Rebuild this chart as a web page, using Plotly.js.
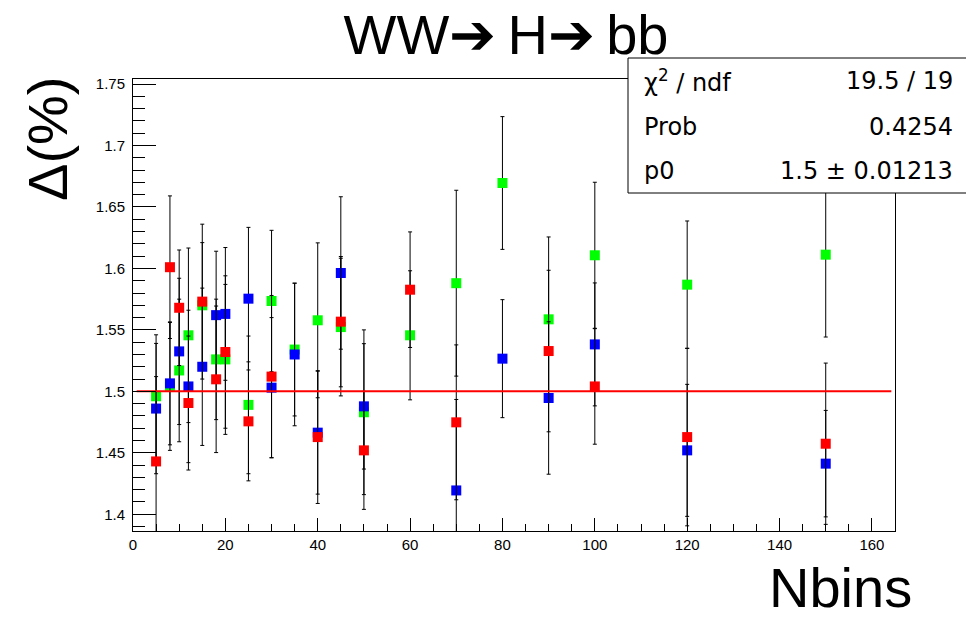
<!DOCTYPE html>
<html>
<head>
<meta charset="utf-8">
<script src="https://cdn.plot.ly/plotly-3.0.1.min.js"></script>
<style>html,body{margin:0;padding:0;background:#fff;}#chart{width:966px;height:617px;}</style>
</head>
<body>
<div id="chart"></div>
<script>
// ---- data ----
var nbins = [5, 8, 10, 12, 15, 18, 20, 25, 30, 35, 40, 45, 50, 60, 70, 80, 90, 100, 120, 150];

var greenVals = [1.496, 1.504, 1.517, 1.5456, 1.570, 1.526, 1.526, 1.489, 1.5735, 1.534, 1.5578, 1.5523, 1.483, 1.5456, 1.588, 1.6695, 1.5586, 1.6107, 1.5868, 1.6112];
var greenErrs = [0.050, 0.052, 0.058, 0.071, 0.051, 0.049, 0.061, 0.056, 0.0575, 0.054, 0.063, 0.056, 0.067, 0.0525, 0.0756, 0.054, 0.067, 0.0594, 0.0518, 0.067];

var blueVals = [1.486, 1.5065, 1.5325, 1.504, 1.520, 1.562, 1.563, 1.5754, 1.503, 1.530, 1.4664, 1.5963, 1.4878, null, 1.4194, 1.5266, 1.4946, 1.5382, 1.452, 1.4412];
var blueErrs = [0.053, 0.050, 0.0595, 0.062, 0.064, 0.052, 0.054, 0.058, 0.057, 0.058, 0.050, 0.062, 0.051, null, 0.074, 0.048, 0.062, 0.050, 0.0537, 0.0433];

var redVals = [1.443, 1.601, 1.568, 1.4905, 1.573, 1.5098, 1.532, 1.4756, 1.512, null, 1.4628, 1.5567, 1.452, 1.5827, 1.4748, null, 1.5328, 1.504, 1.4628, 1.4574];
var redErrs = [0.069, 0.058, 0.047, 0.0545, 0.063, 0.0596, 0.062, 0.0484, 0.066, null, 0.054, 0.053, 0.048, 0.047, 0.063, null, 0.0657, 0.047, 0.0722, 0.0656];

var fitRange = [0.8, 164.2];
var fitP0 = 1.5;

var titleText = "WW\u2794\u2009H\u2794\u2009bb";
var xTitleText = "Nbins";
var yTitleText = "\u0394(%)";
var statLabels = ["\u03c7<sup>2</sup> / ndf", "Prob", "p0"];
var statValues = ["19.5 / 19", "0.4254", "1.5 \u00b1 0.01213"];

// ---- chart ----
var FONT = "Liberation Sans, Arial, sans-serif";
var STATFONT = "DejaVu Sans, sans-serif";

function series(vals, errs, color) {
  return {
    type: "scatter", mode: "markers", x: nbins, y: vals,
    marker: {symbol: "square", size: 10, color: color, line: {width: 0}},
    error_y: {type: "data", array: errs, visible: true, color: "#000", thickness: 1, width: 2},
    cliponaxis: true, showlegend: false, hoverinfo: "x+y"
  };
}

var traces = [
  series(greenVals, greenErrs, "#00ff00"),
  series(blueVals, blueErrs, "#0000ff"),
  series(redVals, redErrs, "#ff0000"),
  {type: "scatter", mode: "lines", x: fitRange, y: [fitP0, fitP0],
   line: {color: "#ff0000", width: 2}, showlegend: false, hoverinfo: "skip"}
];

var L = 133, R = 71, T = 79, B = 86, W = 966, H = 617;
var pw = W - L - R, ph = H - T - B;
function px2x(p) { return (p - L) / pw; }
function py2y(p) { return (H - B - p) / ph; }

var annotations = [];
var rowY = [81, 127, 171];
for (var i = 0; i < statLabels.length; i++) {
  annotations.push({xref: "paper", yref: "paper", x: px2x(642), y: py2y(rowY[i]), xanchor: "left", yanchor: "middle",
    text: statLabels[i], showarrow: false, font: {family: STATFONT, size: 24, color: "#000"}});
  annotations.push({xref: "paper", yref: "paper", x: px2x(955), y: py2y(rowY[i]), xanchor: "right", yanchor: "middle",
    text: statValues[i], showarrow: false, font: {family: STATFONT, size: 24, color: "#000"}});
}
annotations.push({xref: "paper", yref: "paper", x: px2x(914), y: py2y(587), xanchor: "right", yanchor: "middle",
  text: xTitleText, showarrow: false, font: {family: FONT, size: 56, color: "#000"}});
annotations.push({xref: "paper", yref: "paper", x: px2x(47), y: py2y(139), xanchor: "center", yanchor: "middle",
  text: yTitleText, textangle: -90, showarrow: false, font: {family: FONT, size: 56, color: "#000"}});

var layout = {
  width: W, height: H,
  margin: {l: L, r: R, t: T, b: B, pad: 0},
  paper_bgcolor: "#fff", plot_bgcolor: "#fff",
  title: {text: titleText, font: {family: FONT, size: 56, color: "#000"},
          xref: "container", yref: "container", x: 506 / W, xanchor: "center", y: 1 - 34 / H, yanchor: "middle"},
  xaxis: {range: [0, 165], dtick: 20, tick0: 0, ticks: "inside", ticklen: 13, tickwidth: 1, tickcolor: "#000",
          minor: {dtick: 5, ticklen: 7, tickwidth: 1, tickcolor: "#000", ticks: "inside"},
          showgrid: false, zeroline: false, showline: true, mirror: true, linecolor: "#000", linewidth: 1,
          tickfont: {family: FONT, size: 15, color: "#000"}, ticklabelstandoff: 0},
  yaxis: {range: [1.3864, 1.7541], dtick: 0.05, tick0: 1.4, ticks: "inside", ticklen: 23, tickwidth: 1, tickcolor: "#000",
          minor: {dtick: 0.01, ticklen: 12, tickwidth: 1, tickcolor: "#000", ticks: "inside"},
          showgrid: false, zeroline: false, showline: true, mirror: true, linecolor: "#000", linewidth: 1,
          tickfont: {family: FONT, size: 15, color: "#000"}, ticklabelstandoff: 4},
  shapes: [{type: "rect", xref: "paper", yref: "paper", layer: "above",
            x0: px2x(628), x1: px2x(985), y0: py2y(193), y1: py2y(58),
            fillcolor: "#fff", line: {color: "#000", width: 1}}],
  annotations: annotations
};

Plotly.newPlot("chart", traces, layout, {displayModeBar: false, staticPlot: true});
</script>
</body>
</html>
